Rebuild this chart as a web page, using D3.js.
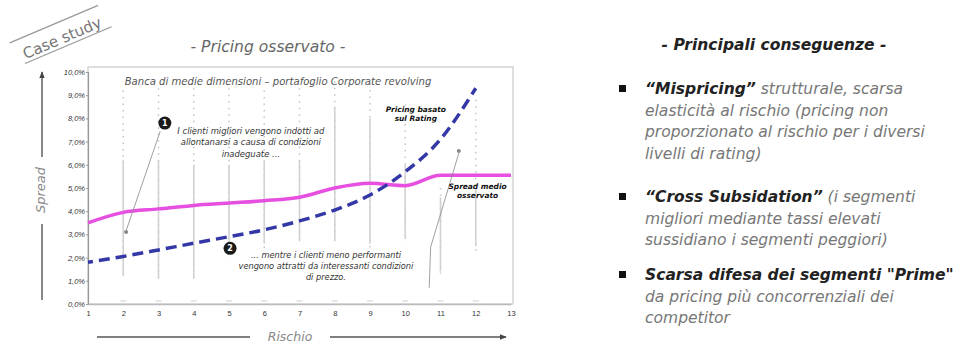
<!DOCTYPE html>
<html>
<head>
<meta charset="utf-8">
<script src="https://cdn.jsdelivr.net/npm/d3@7"></script>
<style>
  html, body { margin: 0; padding: 0; background: #fff; }
  svg { display: block; font-family: "DejaVu Sans", Verdana, sans-serif; }
</style>
</head>
<body>
<svg id="chart" width="957" height="345"></svg>
<script>
// Rating classes (risk) on the horizontal axis
const ratingClasses = [1, 2, 3, 4, 5, 6, 7, 8, 9, 10, 11, 12, 13];
const spreadTicks = [0, 1, 2, 3, 4, 5, 6, 7, 8, 9, 10];

// Observed average spread (%) per rating class
const observedSpread = [3.5, 3.95, 4.1, 4.25, 4.35, 4.45, 4.6, 5.0, 5.2, 5.1, 5.55, 5.55, 5.55];

// Rating-based pricing (%) per rating class 1..12
const ratingClassesPricing = [1, 2, 3, 4, 5, 6, 7, 8, 9, 10, 11, 12];
const ratingPricing = [1.8, 2.05, 2.33, 2.62, 2.9, 3.2, 3.58, 4.05, 4.7, 5.7, 7.1, 9.3];

// Dispersion of observed spreads per class: full range and dense core (%)
const dispersionClasses = [2, 3, 4, 5, 6, 7, 8, 9, 10, 11, 12];
const dispersionMax = [9.2, 9.3, 9.3, 9.3, 9.2, 9.3, 9.6, 9.5, 8.6, 5.0, 8.8];
const dispersionMin = [1.1, 1.1, 1.1, 2.0, 2.0, 2.6, 2.6, 2.4, 2.7, 1.3, 2.3];
const coreMax = [6.2, 6.2, 6.0, 6.0, 6.2, 6.2, 8.5, 8.0, 6.0, 4.6, 5.0];
const coreMin = [1.2, 1.1, 1.1, 2.4, 2.6, 2.7, 2.7, 2.6, 2.8, 1.4, 2.5];

const svg = d3.select("#chart");

const x = d3.scaleLinear().domain([1, 13]).range([88, 511]);
const y = d3.scaleLinear().domain([0, 10]).range([304, 72]);

// Scale a text element's font size so that its rendered width equals `w`.
function fitWidth(sel, w) {
  const node = sel.node();
  const fs = parseFloat(sel.attr("font-size"));
  const len = node.getComputedTextLength();
  if (len > 0) sel.attr("font-size", (fs * w / len).toFixed(2));
  return +sel.attr("font-size");
}

// ---- Page decorations ----
const caseG = svg.append("g").attr("transform", "translate(62,38) rotate(-23)");
fitWidth(caseG.append("text").attr("text-anchor", "middle").attr("dy", "0.35em")
  .attr("font-size", 12).attr("fill", "#777").text("Case study"), 84);
caseG.append("line").attr("x1", -50).attr("x2", 46).attr("y1", -16).attr("y2", -16)
  .attr("stroke", "#999").attr("stroke-width", 1.3);
caseG.append("line").attr("x1", -44).attr("x2", 50).attr("y1", 9).attr("y2", 9)
  .attr("stroke", "#999").attr("stroke-width", 1.3);

fitWidth(svg.append("text").attr("x", 268).attr("y", 52).attr("text-anchor", "middle")
  .attr("font-size", 12).attr("font-style", "italic").attr("fill", "#666")
  .text("- Pricing osservato -"), 155);

// ---- Plot frame ----
svg.append("rect").attr("x", x(1)).attr("y", 67).attr("width", 513 - x(1)).attr("height", y(0) - 67)
  .attr("fill", "none").attr("stroke", "#d4d4d4").attr("stroke-width", 1.5);

// ---- Dispersion columns ----
const disp = svg.append("g");
dispersionClasses.forEach((c, i) => {
  disp.append("line").attr("x1", x(c)).attr("x2", x(c))
    .attr("y1", y(dispersionMax[i])).attr("y2", y(dispersionMin[i]))
    .attr("stroke", "#c4c4c4").attr("stroke-width", 1.5).attr("stroke-dasharray", "1.5,5");
  disp.append("line").attr("x1", x(c)).attr("x2", x(c))
    .attr("y1", y(coreMax[i])).attr("y2", y(coreMin[i]))
    .attr("stroke", "#d2d2d2").attr("stroke-width", 1.6);
  disp.append("line").attr("x1", x(c) - 3).attr("x2", x(c) + 3)
    .attr("y1", y(0) - 3).attr("y2", y(0) - 3)
    .attr("stroke", "#d0d0d0").attr("stroke-width", 1);
});

// ---- Axes ----
const yAxis = svg.append("g").attr("transform", `translate(${x(1)},0)`)
  .call(d3.axisLeft(y).tickValues(spreadTicks).tickSize(2).tickPadding(1)
    .tickFormat(d => d.toFixed(1).replace(".", ",") + "%"));
yAxis.select(".domain").attr("stroke", "#999").attr("stroke-width", 1.2);
yAxis.selectAll(".tick line").attr("stroke", "#999");
yAxis.selectAll("text").attr("font-size", 7.5).attr("fill", "#333").attr("font-style", "italic");

const xAxis = svg.append("g").attr("transform", `translate(0,${y(0)})`)
  .call(d3.axisBottom(x).tickValues(ratingClasses).tickSize(0).tickPadding(7)
    .tickFormat(d3.format("d")));
xAxis.select(".domain").attr("stroke", "#bbb").attr("stroke-width", 1.5);
xAxis.selectAll("text").attr("font-size", 7.5).attr("fill", "#333");

// ---- Series ----
const line = d3.line().x(d => x(d[0])).y(d => y(d[1])).curve(d3.curveMonotoneX);

svg.append("path")
  .datum(ratingClasses.map((c, i) => [c, observedSpread[i]]))
  .attr("d", line).attr("fill", "none")
  .attr("stroke", "#e64fe0").attr("stroke-width", 3.5).attr("stroke-linejoin", "round");

svg.append("path")
  .datum(ratingClassesPricing.map((c, i) => [c, ratingPricing[i]]))
  .attr("d", line).attr("fill", "none")
  .attr("stroke", "#3438a6").attr("stroke-width", 3.5)
  .attr("stroke-dasharray", "11,6").attr("stroke-dashoffset", 6);

// ---- Annotations ----
const ann = svg.append("g");
fitWidth(ann.append("text").attr("x", 278).attr("y", 85).attr("text-anchor", "middle")
  .attr("font-size", 8).attr("font-style", "italic").attr("fill", "#555")
  .text("Banca di medie dimensioni – portafoglio Corporate revolving"), 307);

// leader 1
ann.append("line").attr("x1", x(3.05)).attr("y1", y(7.45)).attr("x2", x(2.08)).attr("y2", y(3.15))
  .attr("stroke", "#888").attr("stroke-width", 0.8);
ann.append("circle").attr("cx", x(2.08)).attr("cy", y(3.1)).attr("r", 2).attr("fill", "#888");
// leader 3
ann.append("polyline")
  .attr("points", [[11.52, 6.5], [10.72, 2.45], [10.68, 0.7]].map(p => [x(p[0]), y(p[1])].join(",")).join(" "))
  .attr("fill", "none").attr("stroke", "#888").attr("stroke-width", 0.8);
ann.append("circle").attr("cx", x(11.52)).attr("cy", y(6.6)).attr("r", 2).attr("fill", "#888");

function badge(cx, cy, label) {
  ann.append("circle").attr("cx", x(cx)).attr("cy", y(cy)).attr("r", 6.5).attr("fill", "#1a1a1a");
  ann.append("text").attr("x", x(cx)).attr("y", y(cy)).attr("dy", "0.35em")
    .attr("text-anchor", "middle").attr("font-size", 8).attr("font-weight", "bold")
    .attr("fill", "#fff").text(label);
}
badge(3.18, 7.8, "1");
badge(5.03, 2.4, "2");

// Centered multi-line note; the first line sets the common font size.
function block(cx, ys, lines, opts) {
  let size = opts.size;
  lines.forEach((t, i) => {
    const el = ann.append("text").attr("x", x(cx)).attr("y", ys[i]).attr("text-anchor", "middle")
      .attr("font-size", size).attr("font-style", "italic")
      .attr("font-weight", opts.bold ? "bold" : "normal")
      .attr("fill", opts.fill).text(t);
    if (i === opts.fitLine) size = fitWidth(el, opts.fitWidth);
  });
}
block(5.62, [134, 145, 157], [
  "I clienti migliori vengono indotti ad",
  "allontanarsi a causa di condizioni",
  "inadeguate ..."
], { size: 6.6, fill: "#333", fitLine: 0, fitWidth: 147 });
block(7.75, [258, 269, 280], [
  "... mentre i clienti meno performanti",
  "vengono attratti da interessanti condizioni",
  "di prezzo."
], { size: 6.6, fill: "#333", fitLine: 0, fitWidth: 150 });
block(10.3, [112, 121], ["Pricing basato", "sul Rating"], { size: 6.2, bold: true, fill: "#111", fitLine: 0, fitWidth: 60 });
block(12.05, [189, 198], ["Spread medio", "osservato"], { size: 6.2, bold: true, fill: "#111", fitLine: 0, fitWidth: 58 });

// ---- Axis titles with arrows ----
svg.append("defs").append("marker").attr("id", "arr").attr("viewBox", "0 0 10 10")
  .attr("refX", 9).attr("refY", 5).attr("markerWidth", 5).attr("markerHeight", 5)
  .attr("orient", "auto").append("path").attr("d", "M0,1L10,5L0,9Z").attr("fill", "#444");

svg.append("line").attr("x1", 42).attr("x2", 42).attr("y1", 157).attr("y2", 72)
  .attr("stroke", "#555").attr("stroke-width", 1.4).attr("marker-end", "url(#arr)");
svg.append("line").attr("x1", 42).attr("x2", 42).attr("y1", 224).attr("y2", 300)
  .attr("stroke", "#555").attr("stroke-width", 1.4);
fitWidth(svg.append("text").attr("transform", "translate(40,190) rotate(-90)")
  .attr("text-anchor", "middle").attr("dy", "0.35em")
  .attr("font-size", 12).attr("font-style", "italic").attr("fill", "#888").text("Spread"), 46);

svg.append("line").attr("x1", 97).attr("x2", 250).attr("y1", 337).attr("y2", 337)
  .attr("stroke", "#555").attr("stroke-width", 1.4);
svg.append("line").attr("x1", 330).attr("x2", 506).attr("y1", 337).attr("y2", 337)
  .attr("stroke", "#555").attr("stroke-width", 1.4).attr("marker-end", "url(#arr)");
svg.append("text").attr("x", 290).attr("y", 340.5).attr("text-anchor", "middle")
  .attr("font-size", 12.5).attr("font-style", "italic").attr("fill", "#888").text("Rischio");

// ---- Right panel: consequences ----
const panel = svg.append("g");
fitWidth(panel.append("text").attr("x", 774).attr("y", 50).attr("text-anchor", "middle")
  .attr("font-size", 11.5).attr("font-style", "italic").attr("font-weight", "bold")
  .attr("fill", "#222").text("- Principali conseguenze -"), 225);

const bullets = [
  { y: 89, lines: [[["“Mispricing”", true], [" strutturale, scarsa", false]],
                   [["elasticità al rischio (pricing non", false]],
                   [["proporzionato al rischio per i diversi", false]],
                   [["livelli di rating)", false]]] },
  { y: 197, lines: [[["“Cross Subsidation”", true], [" (i segmenti", false]],
                    [["migliori mediante tassi elevati", false]],
                    [["sussidiano i segmenti peggiori)", false]]] },
  { y: 275, lines: [[["Scarsa difesa dei segmenti \"Prime\"", true]],
                    [["da pricing più concorrenziali dei", false]],
                    [["competitor", false]]] }
];

// Body size taken from the widest plain line of the first bullet
const probe = panel.append("text").attr("font-size", 11.5).attr("font-style", "italic")
  .text("proporzionato al rischio per i diversi");
const bodySize = fitWidth(probe, 280);
probe.remove();

bullets.forEach(b => {
  panel.append("rect").attr("x", 619).attr("y", b.y - 4).attr("width", 7).attr("height", 7).attr("fill", "#111");
  b.lines.forEach((ln, i) => {
    const t = panel.append("text").attr("x", 645).attr("y", b.y + 5 + i * 21.7)
      .attr("font-size", bodySize).attr("font-style", "italic");
    ln.forEach(([s, bold]) => {
      t.append("tspan").attr("font-weight", bold ? "bold" : "normal")
        .attr("font-style", "italic")
        .attr("fill", bold ? "#222" : "#777").text(s);
    });
  });
});
</script>
</body>
</html>
